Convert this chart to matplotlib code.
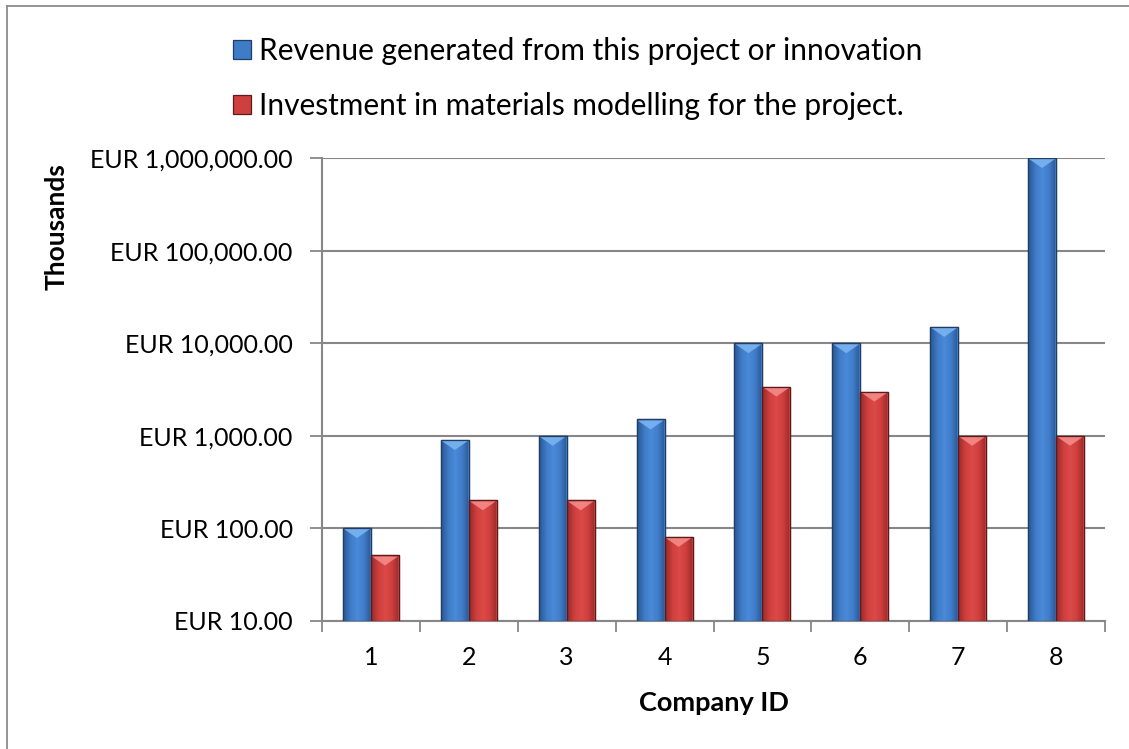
import numpy as np
import matplotlib
matplotlib.use("Agg")
import matplotlib.pyplot as plt
from matplotlib.patches import Polygon, Rectangle
from matplotlib.lines import Line2D
from matplotlib.ticker import FixedLocator, NullLocator, FixedFormatter, NullFormatter
from matplotlib.colors import LinearSegmentedColormap

plt.rcParams['font.family'] = ['Lato', 'DejaVu Sans']

# ---- data ----
companies = ['1', '2', '3', '4', '5', '6', '7', '8']
revenue = [100, 900, 1000, 1500, 10000, 10000, 15000, 1000000]
investment = [50, 200, 200, 80, 3400, 3000, 1000, 1000]
series_labels = ['Revenue generated from this project or innovation',
                 'Investment in materials modelling for the project.']
y_ticks = [10, 100, 1000, 10000, 100000, 1000000]

W, H, DPI = 1129, 749, 100
fig = plt.figure(figsize=(W / DPI, H / DPI), dpi=DPI)

# outer chart border (top and left visible)
fig.add_artist(Line2D([7 / W, 7 / W], [0, 1 - 6 / H], transform=fig.transFigure,
                      color='#8c8c8c', lw=1.3))
fig.add_artist(Line2D([7 / W, 1], [1 - 6 / H, 1 - 6 / H], transform=fig.transFigure,
                      color='#8c8c8c', lw=1.3))

ax_l, ax_r, ax_t, ax_b = 322, 1105, 158, 621
ax = fig.add_axes([ax_l / W, 1 - ax_b / H, (ax_r - ax_l) / W, (ax_b - ax_t) / H])
ax.set_yscale('log')
ax.set_ylim(10, 1e6)
ax.set_xlim(-0.5, len(companies) - 0.5)

grid_c = '#878787'
ax.yaxis.set_major_locator(FixedLocator(y_ticks))
ax.yaxis.set_minor_locator(NullLocator())
ax.yaxis.set_major_formatter(FixedFormatter([f"EUR {v:,.2f}" for v in y_ticks]))
ax.grid(axis='y', color=grid_c, lw=1.5, zorder=0)
ax.set_axisbelow(True)

x = np.arange(len(companies))
ax.xaxis.set_major_locator(FixedLocator(np.arange(len(companies) + 1) - 0.5))
ax.xaxis.set_major_formatter(NullFormatter())
ax.xaxis.set_minor_locator(FixedLocator(x))
ax.xaxis.set_minor_formatter(FixedFormatter(companies))
ax.tick_params(axis='x', which='major', length=8, width=1.3, color=grid_c)
ax.tick_params(axis='x', which='minor', length=0, pad=18, labelsize=18)
ax.tick_params(axis='y', which='major', length=9, width=1.3, color=grid_c, pad=12, labelsize=18)

for s in ['top', 'right']:
    ax.spines[s].set_visible(False)
for s in ['left', 'bottom']:
    ax.spines[s].set_color(grid_c)
    ax.spines[s].set_linewidth(1.5)

bw = 0.286
styles = [
    dict(edge='#1f3d66', cols=['#2a5893', '#3f7cc8', '#4a8ad8', '#3f7cc8', '#2a5590'], tri='#7ab4f0'),
    dict(edge='#5e1a1a', cols=['#9c2c2b', '#cf3f3d', '#dc4a48', '#cc3e3c', '#992a29'], tri='#f48a88'),
]

for k, (vals, off) in enumerate([(revenue, -bw / 2), (investment, bw / 2)]):
    st = styles[k]
    bars = ax.bar(x + off, vals, width=bw, bottom=1, color=st['cols'][2],
                  edgecolor=st['edge'], linewidth=0.9, zorder=3, label=series_labels[k])
    cmap = LinearSegmentedColormap.from_list(f'g{k}', st['cols'])
    grad = np.linspace(0, 1, 64).reshape(1, -1)
    for p in bars.patches:
        x0 = p.get_x()
        x1 = x0 + p.get_width()
        top = p.get_y() + p.get_height()
        im = ax.imshow(grad, cmap=cmap, aspect='auto', extent=[x0, x1, 10, top],
                       interpolation='bicubic', zorder=3.5)
        im.set_clip_path(p)
        # top bevel chevron in display coords
        (dx0, dy), = ax.transData.transform([(x0, top)])
        (dx1, _), = ax.transData.transform([(x1, top)])
        depth = 10
        tri = Polygon([(dx0 + 1, dy - 1), (dx1 - 1, dy - 1), ((dx0 + dx1) / 2, dy - depth)],
                      closed=True, transform=None, facecolor=st['tri'], edgecolor='none',
                      zorder=4, alpha=0.9)
        ax.add_artist(tri)
        edge = Rectangle((x0, 10), x1 - x0, top - 10, facecolor='none', edgecolor=st['edge'],
                         lw=0.9, zorder=4.5)
        ax.add_patch(edge)

ax.set_xlim(-0.5, len(companies) - 0.5)
ax.set_ylim(10, 1e6)

ax.set_xlabel('Company ID', fontsize=19.5, fontweight='bold', va='center')
ax.xaxis.set_label_coords(0.5, -(703 - ax_b) / (ax_b - ax_t))
ax.set_ylabel('Thousands', fontsize=19, fontweight='bold', va='center', ha='center')
ax.yaxis.set_label_coords((57 - ax_l) / (ax_r - ax_l), (ax_b - 227) / (ax_b - ax_t))

h1 = Rectangle((0, 0), 1, 1, facecolor=styles[0]['cols'][1], edgecolor=styles[0]['edge'], lw=0.9)
h2 = Rectangle((0, 0), 1, 1, facecolor=styles[1]['cols'][1], edgecolor=styles[1]['edge'], lw=0.9)
fig.legend([h1, h2], series_labels, loc='upper left',
           bbox_to_anchor=(233 / W, 1 - 37 / H), frameon=False, fontsize=21.5,
           handlelength=0.6, handleheight=0.6, handletextpad=0.27,
           labelspacing=0.9, borderpad=0, borderaxespad=0)

fig.savefig('out.png', dpi=DPI)
